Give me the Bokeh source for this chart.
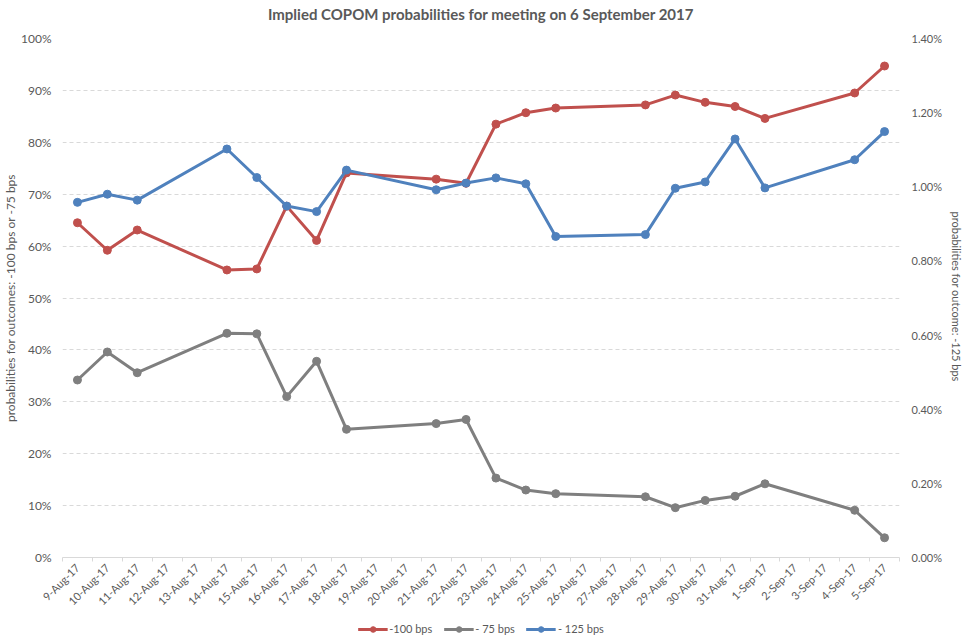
import math
from bokeh.plotting import figure
from bokeh.layouts import column
from bokeh.models import (Range1d, LinearAxis, FixedTicker, PrintfTickFormatter,
                          Legend, LegendItem, ColumnDataSource, Title)
from bokeh.embed import file_html
from bokeh.resources import INLINE

# ---------------- data ----------------
categories = ["9-Aug-17", "10-Aug-17", "11-Aug-17", "12-Aug-17", "13-Aug-17", "14-Aug-17",
              "15-Aug-17", "16-Aug-17", "17-Aug-17", "18-Aug-17", "19-Aug-17", "20-Aug-17",
              "21-Aug-17", "22-Aug-17", "23-Aug-17", "24-Aug-17", "25-Aug-17", "26-Aug-17",
              "27-Aug-17", "28-Aug-17", "29-Aug-17", "30-Aug-17", "31-Aug-17", "1-Sep-17",
              "2-Sep-17", "3-Sep-17", "4-Sep-17", "5-Sep-17"]

obs_dates = ["9-Aug-17", "10-Aug-17", "11-Aug-17", "14-Aug-17", "15-Aug-17", "16-Aug-17",
             "17-Aug-17", "18-Aug-17", "21-Aug-17", "22-Aug-17", "23-Aug-17", "24-Aug-17",
             "25-Aug-17", "28-Aug-17", "29-Aug-17", "30-Aug-17", "31-Aug-17", "1-Sep-17",
             "4-Sep-17", "5-Sep-17"]

minus_100 = [64.5, 59.2, 63.1, 55.4, 55.6, 67.7, 61.1, 74.1, 72.9, 72.1,
             83.5, 85.7, 86.6, 87.2, 89.1, 87.7, 86.9, 84.6, 89.5, 94.7]
minus_75 = [34.2, 39.6, 35.6, 43.2, 43.1, 31.0, 37.8, 24.7, 25.8, 26.6,
            15.3, 13.0, 12.3, 11.7, 9.6, 11.0, 11.8, 14.2, 9.1, 3.8]
minus_125 = [0.958, 0.980, 0.964, 1.102, 1.025, 0.948, 0.933, 1.045, 0.992, 1.010,
             1.024, 1.008, 0.866, 0.871, 0.996, 1.013, 1.129, 0.997, 1.073, 1.149]

left_ticks = [0, 10, 20, 30, 40, 50, 60, 70, 80, 90, 100]
right_ticks = [0.0, 0.2, 0.4, 0.6, 0.8, 1.0, 1.2, 1.4]

title_text = "Implied COPOM probabilities for meeting on 6 September 2017"
left_title = "probabilities for outcomes: -100 bps or -75 bps"
right_title = "probabilities for outcome:  -125 bps"
series_names = ["-100 bps", "- 75 bps", "- 125 bps"]
colors = ["#C0504D", "#7F7F7F", "#4F81BD"]

# ---------------- figure ----------------
FONT = "Lato"
TXT = "#595959"

cat_pos = {c: i + 0.5 for i, c in enumerate(categories)}
xs = [cat_pos[d] for d in obs_dates]

p = figure(width=966, height=618, output_backend="svg", toolbar_location=None,
           x_range=Range1d(0, len(categories)), y_range=Range1d(0, 100),
           min_border_left=60, min_border_right=66, min_border_top=38, min_border_bottom=61,
           y_axis_location=None, x_axis_location=None)
p.outline_line_color = None
p.background_fill_color = "white"
p.border_fill_color = "white"

p.title.text = title_text
p.title.align = "center"
p.title.vertical_align = "top"
p.title.text_font = FONT
p.title.text_font_size = "15px"
p.title.text_font_style = "bold"
p.title.text_color = TXT
p.title.standoff = 8

# small spacer between the title and the plot area
p.add_layout(Title(text=" ", text_font_size="4px", standoff=3), "above")

p.extra_y_ranges = {"right": Range1d(0, 1.4)}

# left axis
yl = LinearAxis(ticker=FixedTicker(ticks=left_ticks),
                formatter=PrintfTickFormatter(format="%d%%"))
yl.axis_line_color = None
yl.major_tick_line_color = None
yl.minor_tick_line_color = None
yl.major_tick_out = 0
yl.major_tick_in = 0
yl.minor_tick_out = 0
yl.minor_tick_in = 0
yl.major_label_text_font = FONT
yl.major_label_text_font_size = "12px"
yl.major_label_text_color = TXT
yl.major_label_standoff = 11
yl.axis_label = left_title
yl.axis_label_text_font = FONT
yl.axis_label_text_font_size = "12px"
yl.axis_label_text_font_style = "normal"
yl.axis_label_text_color = TXT
yl.axis_label_standoff = 0
p.add_layout(yl, "left")

# right axis
yr = LinearAxis(y_range_name="right", ticker=FixedTicker(ticks=right_ticks),
                formatter=PrintfTickFormatter(format="%.2f%%"))
yr.axis_line_color = None
yr.major_tick_line_color = None
yr.minor_tick_line_color = None
yr.major_tick_out = 0
yr.major_tick_in = 0
yr.minor_tick_out = 0
yr.minor_tick_in = 0
yr.major_label_text_font = FONT
yr.major_label_text_font_size = "11px"
yr.major_label_text_color = TXT
yr.major_label_standoff = 12
yr.axis_label = right_title
yr.axis_label_text_font = FONT
yr.axis_label_text_font_size = "11px"
yr.axis_label_text_font_style = "normal"
yr.axis_label_text_color = TXT
yr.axis_label_standoff = 5
p.add_layout(yr, "right")

# x axis
xa = LinearAxis(ticker=FixedTicker(ticks=[cat_pos[c] for c in categories],
                                   minor_ticks=list(range(len(categories) + 1))))
xa.major_label_overrides = {cat_pos[c]: c for c in categories}
xa.major_label_orientation = math.pi / 4
xa.major_label_text_font = FONT
xa.major_label_text_font_size = "11px"
xa.major_label_text_color = TXT
xa.major_label_standoff = 4
xa.major_tick_line_color = None
xa.major_tick_out = 4
xa.major_tick_in = 0
xa.minor_tick_line_color = "#D9D9D9"
xa.minor_tick_out = 4
xa.minor_tick_in = 0
xa.axis_line_color = "#D9D9D9"
xa.axis_line_width = 1
p.add_layout(xa, "below")

p.xgrid.visible = False
p.ygrid.ticker = FixedTicker(ticks=left_ticks[1:])
p.ygrid.grid_line_color = "#D9D9D9"
p.ygrid.grid_line_dash = "4 3"
p.ygrid.grid_line_width = 1

src = ColumnDataSource(dict(x=xs, a=minus_100, b=minus_75, c=minus_125))

series = [("a", series_names[0], colors[0], "default"),
          ("b", series_names[1], colors[1], "default"),
          ("c", series_names[2], colors[2], "right")]

for col, name, color, rng in series:
    kw = {} if rng == "default" else {"y_range_name": rng}
    p.line("x", col, source=src, line_color=color, line_width=3, **kw)
    p.scatter("x", col, source=src, size=8, fill_color=color, line_color=color, **kw)

# ---------------- legend strip (same series, legend only) ----------------
lg = figure(width=966, height=21, output_backend="svg", toolbar_location=None,
            x_range=Range1d(-2, -1), y_range=Range1d(-2, -1),
            min_border_left=0, min_border_right=0, min_border_top=0, min_border_bottom=0,
            x_axis_location=None, y_axis_location=None)
lg.outline_line_color = None
lg.grid.visible = False
lg.background_fill_color = "white"
lg.border_fill_color = "white"

items = []
for col, name, color, rng in series:
    ln = lg.line("x", col, source=src, line_color=color, line_width=3)
    sc = lg.scatter("x", col, source=src, size=8, fill_color=color, line_color=color)
    items.append(LegendItem(label=name, renderers=[ln, sc]))

legend = Legend(items=items, orientation="horizontal", location="center")
legend.border_line_color = None
legend.background_fill_alpha = 0
legend.label_text_font = FONT
legend.label_text_font_size = "11px"
legend.label_text_color = TXT
legend.glyph_width = 30
legend.glyph_height = 14
legend.label_standoff = 2
legend.spacing = 11
legend.padding = 1
legend.margin = 0
lg.add_layout(legend, "center")

layout = column(p, lg, spacing=0)

open("out.html", "w").write(file_html(layout, INLINE))
